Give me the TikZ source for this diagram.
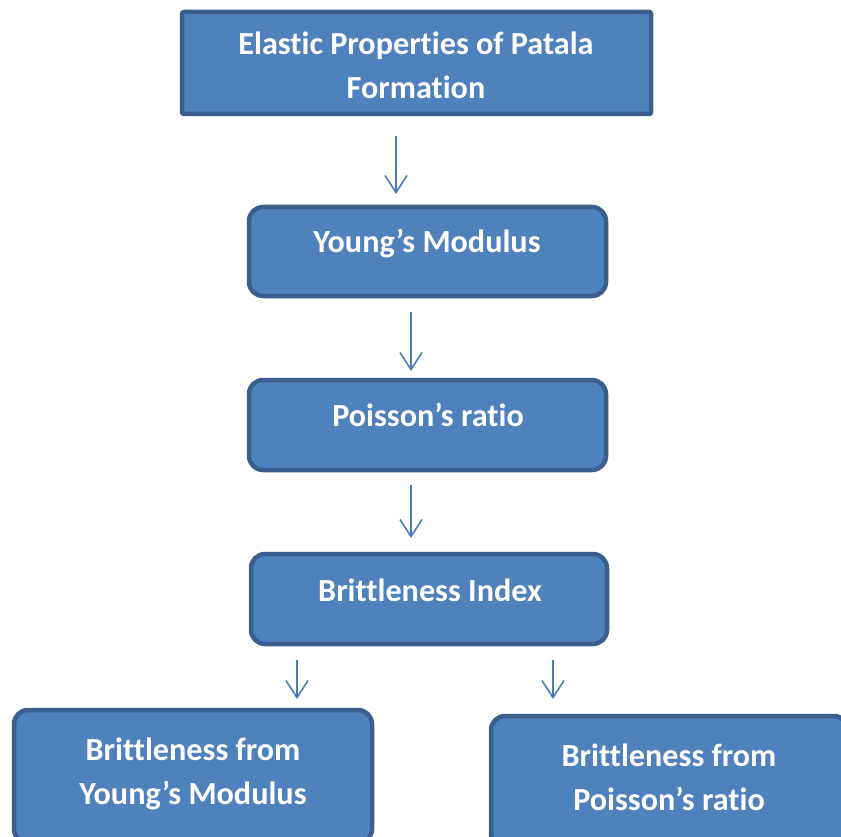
\documentclass[tikz,border=0pt]{standalone}
\usepackage{fontspec}
\setmainfont[Ligatures={NoCommon}]{Carlito}
\usetikzlibrary{arrows.meta}
\definecolor{boxfill}{HTML}{4F81BD}
\definecolor{boxline}{HTML}{3A5F8E}
\definecolor{arrowcol}{HTML}{4A7EBB}
\begin{document}
\begin{tikzpicture}[x=1pt,y=-1pt,
  box/.style={draw=boxline,fill=boxfill,line width=4.5pt,rounded corners=14pt,inner sep=0pt},
  titlebox/.style={box,rounded corners=2pt},
  lbl/.style={text=white,font=\fontsize{32.2}{44}\selectfont\bfseries,align=center,inner sep=0pt},
  arr/.style={draw=arrowcol,line width=1.6pt,-{Straight Barb[length=17pt,width=22pt,line width=1.6pt]}}]
\useasboundingbox (0,0) rectangle (841,837);
\begin{scope}
\clip (0,0) rectangle (841,837);
\node[titlebox,minimum width=469pt,minimum height=102pt] (b1) at (416.5,63) {};
\node[box,minimum width=357pt,minimum height=89pt] (b2) at (427.5,251.5) {};
\node[box,minimum width=357pt,minimum height=90pt] (b3) at (427.5,425) {};
\node[box,minimum width=356pt,minimum height=90pt] (b4) at (429,599) {};
\node[box,minimum width=358pt,minimum height=133pt] (b5) at (193,776.5) {};
\node[box,minimum width=357pt,minimum height=132pt] (b6) at (669.5,782) {};
\end{scope}
\node[lbl,anchor=base] (t1) at (416,99) {Elastic Properties of Patala\\Formation};
\node[lbl,anchor=base] (t2) at (427,253) {Young’s Modulus};
\node[lbl,anchor=base] (t3) at (428,426) {Poisson’s ratio};
\node[lbl,anchor=base] (t4) at (430,601) {Brittleness Index};
\node[lbl,anchor=base] (t5) at (193,804) {Brittleness from\\Young’s Modulus};
\node[lbl,anchor=base] (t6) at (669,810) {Brittleness from\\Poisson’s ratio};
\coordinate (a1s) at (396,136); \coordinate (a1e) at (396,194);
\coordinate (a2s) at (411,312); \coordinate (a2e) at (411,371);
\coordinate (a3s) at (411,485); \coordinate (a3e) at (411,538);
\coordinate (a4s) at (297,660); \coordinate (a4e) at (297,699);
\coordinate (a5s) at (553,660); \coordinate (a5e) at (553,699);
\draw[arr] (a1s) -- (a1e);
\draw[arr] (a2s) -- (a2e);
\draw[arr] (a3s) -- (a3e);
\draw[arr] (a4s) -- (a4e);
\draw[arr] (a5s) -- (a5e);
\end{tikzpicture}
\end{document}
